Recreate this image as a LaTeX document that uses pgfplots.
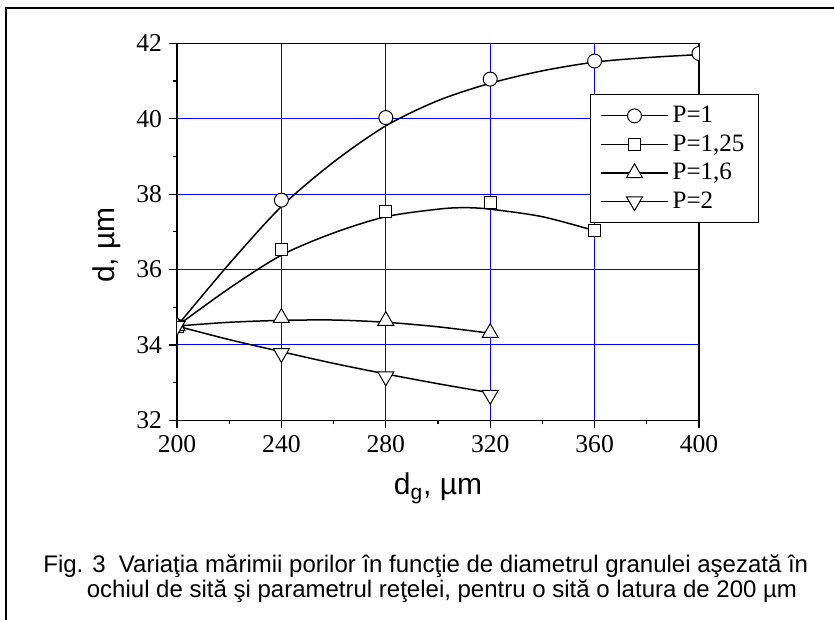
\documentclass[border=0pt]{standalone}
\usepackage{fontspec}
\setmainfont{Liberation Serif}
\setsansfont{Liberation Sans}
\newfontfamily\arial{Liberation Sans}
\usepackage{pgfplots}
\pgfplotsset{compat=1.18}
\usepackage{pgfplotstable}

% measured points (markers)
\pgfplotstableread{
x y
200 34.5
240 37.84
280 40.03
320 41.05
360 41.53
400 41.73
}\pA
\pgfplotstableread{
x y
200 34.5
240 36.54
280 37.53
320 37.77
360 37.03
}\pB
\pgfplotstableread{
x y
200 34.5
240 34.72
280 34.64
320 34.32
}\pC
\pgfplotstableread{
x y
200 34.5
240 33.78
280 33.16
320 32.67
}\pD
% fitted curves
\pgfplotstableread{
x y
200 34.5
220 36.15
240 37.67
260 38.85
280 39.81
300 40.48
320 40.94
340 41.27
360 41.5
380 41.62
400 41.7
}\fA
\pgfplotstableread{
x y
200 34.5
220 35.5
240 36.38
260 36.97
280 37.40
300 37.60
310 37.64
320 37.60
340 37.40
360 37.03
}\fB
\pgfplotstableread{
x y
200 34.5
220 34.6
240 34.65
260 34.66
280 34.6
300 34.48
320 34.31
}\fC
\pgfplotstableread{
x y
200 34.5
220 34.14
240 33.82
260 33.51
280 33.23
300 32.97
320 32.73
}\fD

\begin{document}
\begin{tikzpicture}
\begin{axis}[
  at={(88.5pt,-210.15pt)}, anchor=south west,
  scale only axis, width=261pt, height=188.5pt,
  xmin=200, xmax=400, ymin=32, ymax=42,
  xtick={200,240,...,400}, ytick={32,34,...,42},
  minor x tick num=1, minor y tick num=1,
  tick align=outside, tick pos=left,
  major tick length=4pt, minor tick length=2pt,
  tick style={black, line width=0.6pt},
  grid=major, major grid style={draw=blue, line width=0.5pt},
  axis line style={black, line width=0.75pt},
  /pgf/number format/assume math mode=true,
  tick label style={font=\fontsize{12.8}{14}\selectfont},
  xlabel={d\textsubscript{g}, µm}, ylabel={d, µm},
  label style={font=\arial\fontsize{15}{17}\selectfont},
  xlabel style={at={(axis description cs:0.5,-0.198)}, anchor=base},
  ylabel style={at={(axis description cs:-0.1188,0.465)}, anchor=base, rotate=0},
  clip marker paths=true,
  legend style={at={(axis description cs:0.791,0.8655)}, anchor=north west,
    draw=black, line width=0.5pt, fill=white,
    font=\fontsize{12.5}{14}\selectfont,
    inner xsep=5pt, inner ysep=3.8pt, row sep=0.5pt,
    cells={anchor=west}},
  legend image code/.code={
    \draw[black, line width=0.6pt] (0pt,0pt) -- (33.5pt,0pt);
    \draw[#1] plot coordinates {(16.75pt,0pt)};
  },
]
\addplot[black, line width=0.75pt, smooth, forget plot] table {\fA};
\addplot[black, line width=0.75pt, smooth, forget plot] table {\fB};
\addplot[black, line width=0.75pt, smooth, forget plot] table {\fC};
\addplot[black, line width=0.75pt, smooth, forget plot] table {\fD};

\addplot[only marks, mark=*, mark size=3.5pt, mark options={fill=white, draw=black, line width=0.5pt}] table {\pA};
\addlegendentry{P=1}
\addplot[only marks, mark=square*, mark size=3pt, mark options={fill=white, draw=black, line width=0.5pt}] table {\pB};
\addlegendentry{P=1,25}
\addplot[only marks, mark=triangle*, mark size=4.6pt, mark options={fill=white, draw=black, line width=0.5pt}] table {\pC};
\addlegendentry{P=1,6}
\addplot[only marks, mark=triangle*, mark size=4.6pt, mark options={fill=white, draw=black, line width=0.5pt, rotate=180}] table {\pD};
\addlegendentry{P=2}
\end{axis}
\draw[line width=1pt] (3pt,-310pt) -- (3pt,-4.15pt) -- (417pt,-4.15pt);
\node[font=\arial\fontsize{12}{14}\selectfont, anchor=base west, inner sep=0pt] at (21.5pt,-286pt) {Fig. 3\ \ Variaţia mărimii porilor în funcţie de diametrul granulei aşezată în};
\node[font=\arial\fontsize{12}{14}\selectfont, anchor=base, inner sep=0pt] at (221pt,-298.5pt) {ochiul de sită şi parametrul reţelei, pentru o sită o latura de 200 µm};
\pgfresetboundingbox
\useasboundingbox (0pt,0pt) rectangle (417pt,-310pt);
\end{tikzpicture}
\end{document}
